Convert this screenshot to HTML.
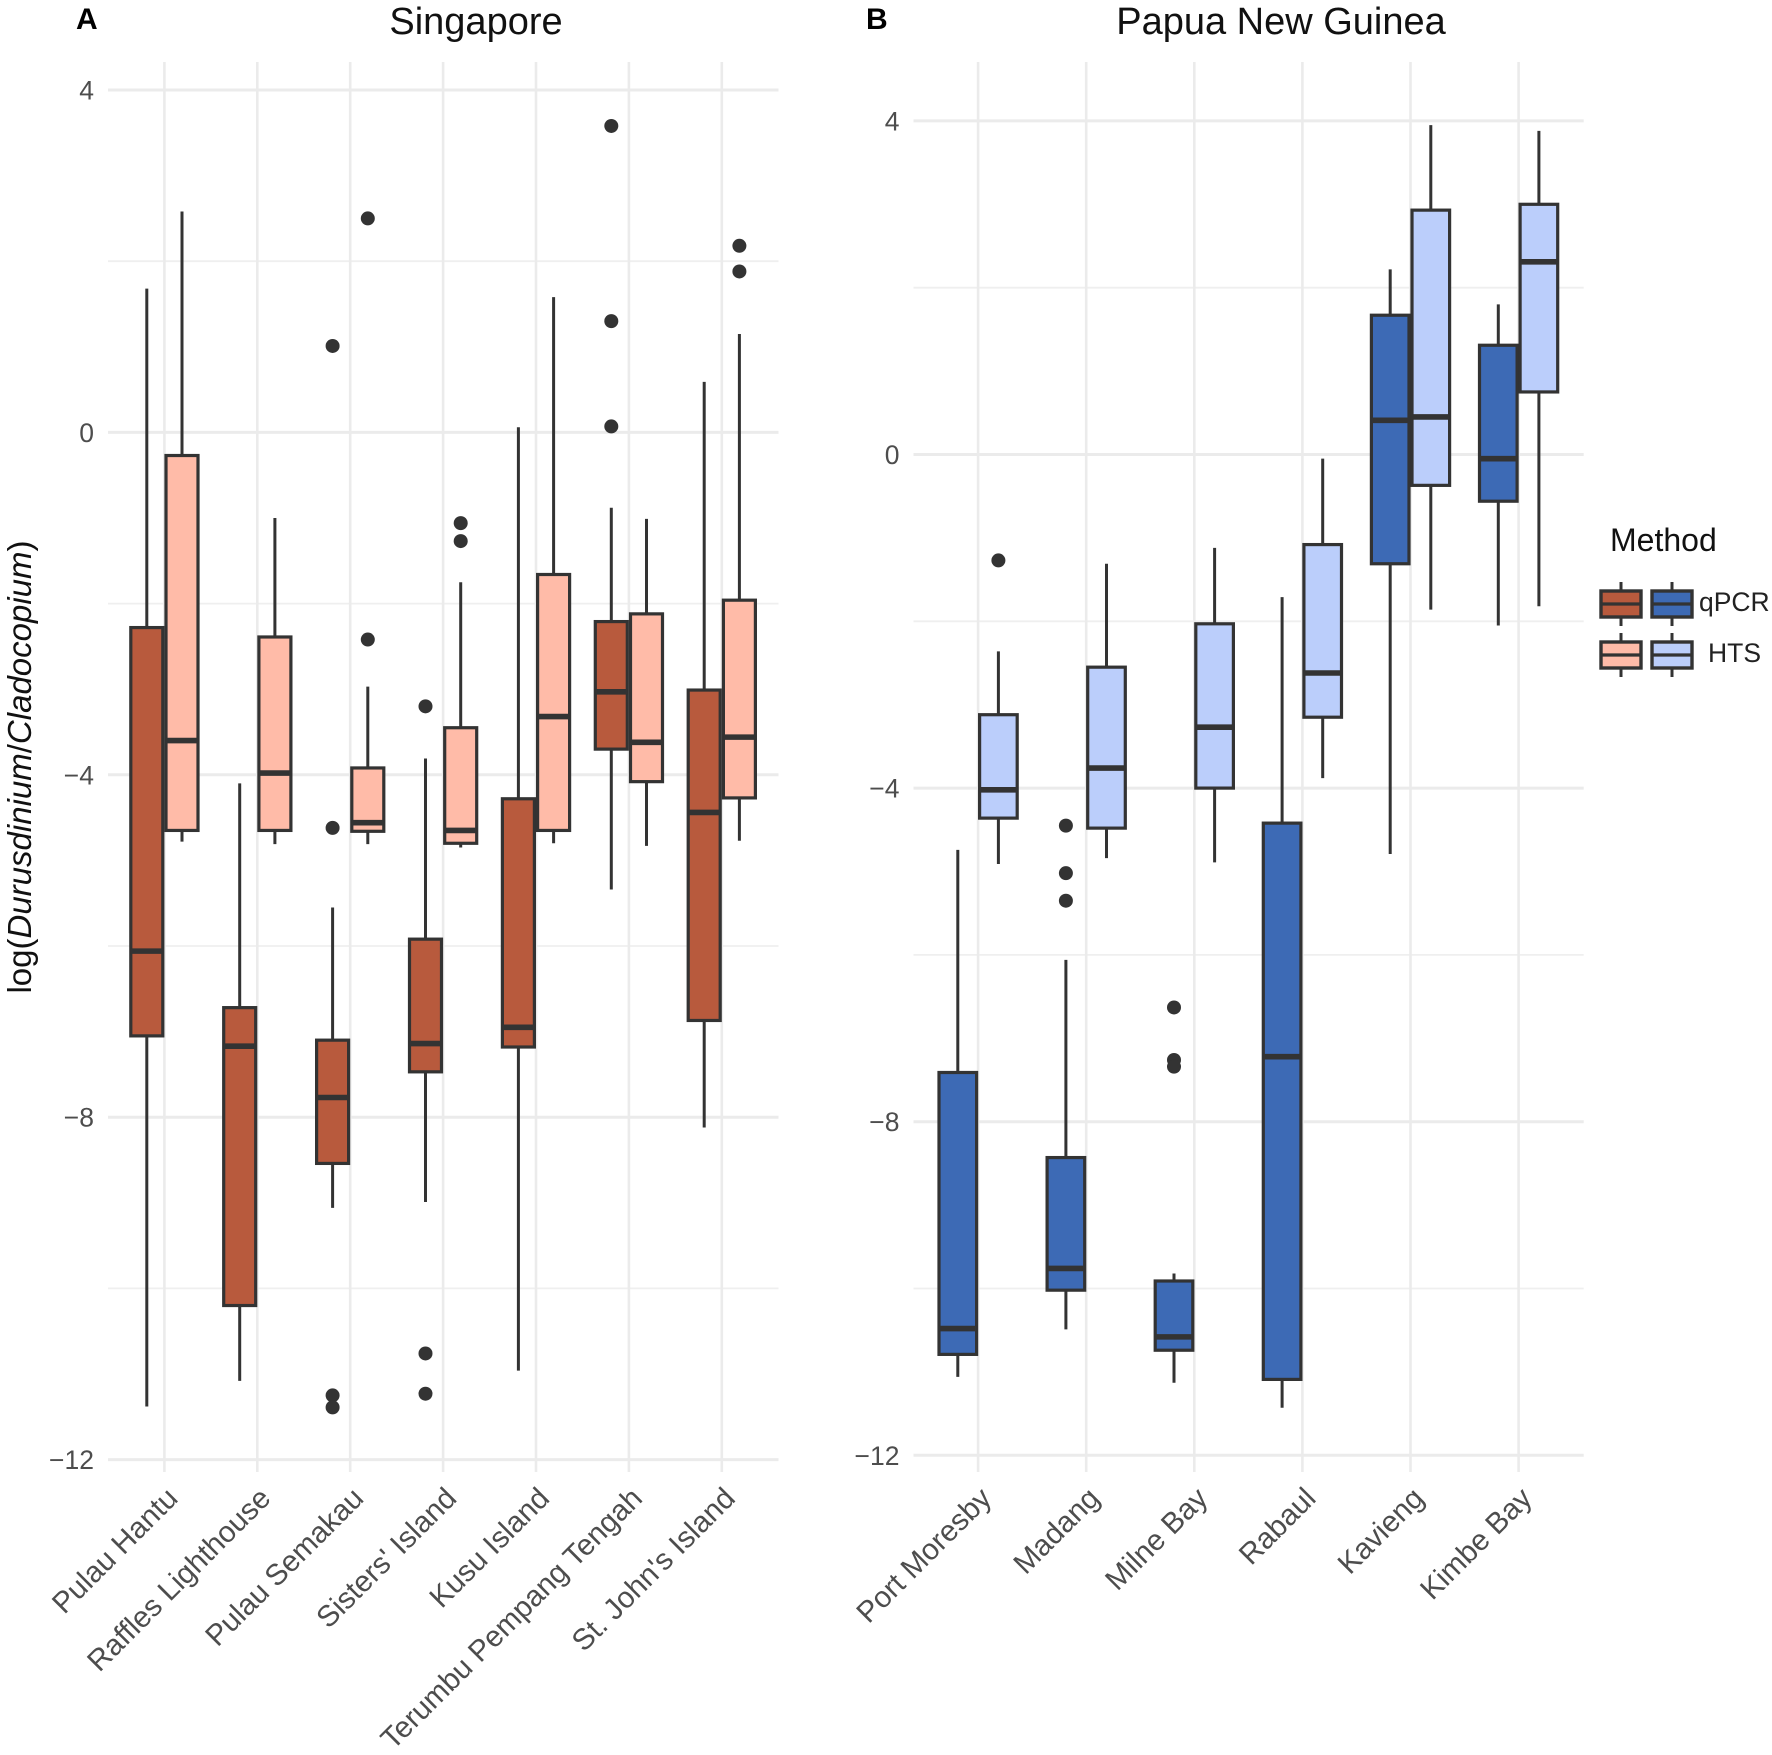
<!DOCTYPE html>
<html lang="en">
<head>
<meta charset="utf-8">
<title>log(Durusdinium/Cladocopium) by site and method</title>
<style>
html,body{margin:0;padding:0;background:#fff;}
svg{display:block;font-family:"Liberation Sans",Arial,sans-serif;}
</style>
</head>
<body>
<svg id="figure" width="1772" height="1755" viewBox="0 0 1772 1755" xmlns="http://www.w3.org/2000/svg">
  <rect x="0" y="0" width="1772" height="1755" fill="#ffffff"/>
  <text x="76" y="29" font-size="30" font-weight="bold" fill="#000">A</text>
  <text x="866" y="29" font-size="30" font-weight="bold" fill="#000">B</text>
  <text x="476" y="34" font-size="38" text-anchor="middle" fill="#111">Singapore</text>
  <text x="1281" y="34" font-size="38" text-anchor="middle" fill="#111">Papua New Guinea</text>
  <text transform="translate(31,767) rotate(-90)" font-size="33" text-anchor="middle" fill="#111">log(<tspan font-style="italic">Durusdinium</tspan>/<tspan font-style="italic">Cladocopium</tspan>)</text>
  <g id="panel-a"></g>
  <g id="panel-b"></g>
  <g>
    <text x="1610" y="551" font-size="32" fill="#111">Method</text>
    <g id="legend-keys"></g>
    <text x="1699" y="611" font-size="26.5" fill="#222">qPCR</text>
    <text x="1708" y="662" font-size="26.5" fill="#222">HTS</text>
  </g>
</svg>
<script>
// Singapore data. Each stat row: [lower whisker, Q1, median, Q3, upper whisker]
const sgSites = ["Pulau Hantu","Raffles Lighthouse","Pulau Semakau","Sisters' Island","Kusu Island","Terumbu Pempang Tengah","St. John's Island"];
const sgQpcrStats = [
  [-11.38,-7.05,-6.06,-2.28,1.68],
  [-11.08,-10.2,-7.17,-6.72,-4.10],
  [-9.06,-8.54,-7.77,-7.10,-5.55],
  [-8.99,-7.47,-7.14,-5.92,-3.81],
  [-10.96,-7.18,-6.95,-4.28,0.06],
  [-5.34,-3.70,-3.03,-2.21,-0.88],
  [-8.12,-6.87,-4.44,-3.01,0.59]
];
const sgHtsStats = [
  [-4.78,-4.65,-3.60,-0.27,2.58],
  [-4.81,-4.65,-3.98,-2.39,-1.00],
  [-4.81,-4.66,-4.56,-3.92,-2.97],
  [-4.85,-4.80,-4.65,-3.45,-1.75],
  [-4.80,-4.65,-3.32,-1.66,1.58],
  [-4.83,-4.08,-3.62,-2.12,-1.01],
  [-4.77,-4.27,-3.56,-1.96,1.15]
];
const sgQpcrOutliers = [[],[],[1.01,-4.62,-11.25,-11.39],[-3.2,-10.76,-11.23],[],[3.58,1.30,0.07],[]];
const sgHtsOutliers = [[],[],[2.50,-2.42],[-1.06,-1.27],[],[],[2.18,1.88]];

// Papua New Guinea data
const pngSites = ["Port Moresby","Madang","Milne Bay","Rabaul","Kavieng","Kimbe Bay"];
const pngQpcrStats = [
  [-11.06,-10.79,-10.48,-7.41,-4.74],
  [-10.49,-10.02,-9.76,-8.43,-6.06],
  [-11.13,-10.74,-10.58,-9.91,-9.82],
  [-11.43,-11.09,-7.22,-4.42,-1.71],
  [-4.79,-1.31,0.41,1.67,2.22],
  [-2.05,-0.56,-0.05,1.31,1.80]
];
const pngHtsStats = [
  [-4.91,-4.36,-4.02,-3.12,-2.36],
  [-4.84,-4.48,-3.76,-2.55,-1.31],
  [-4.89,-4.00,-3.27,-2.03,-1.12],
  [-3.88,-3.15,-2.62,-1.08,-0.05],
  [-1.86,-0.37,0.45,2.93,3.95],
  [-1.82,0.75,2.31,3.00,3.88]
];
const pngQpcrOutliers = [[],[-4.45,-5.02,-5.35],[-6.63,-7.26,-7.34],[],[],[]];
const pngHtsOutliers = [[-1.27],[],[],[],[],[]];

// Axis ticks
const majorTicks = [4,0,-4,-8,-12];
const majorTickLabels = ["4","0","\u22124","\u22128","\u221212"];
const minorTicks = [2,-2,-6,-10];

const SVGNS = "http://www.w3.org/2000/svg";
const INK = "#333333";

function shape(parent, tag, attrs) {
  const el = document.createElementNS(SVGNS, tag);
  for (const k in attrs) el.setAttribute(k, attrs[k]);
  parent.appendChild(el);
  return el;
}

function slug(s) {
  return s.toLowerCase().replace(/[^a-z0-9]+/g, "-");
}

function drawBox(g, xc, width, stats, outliers, fill, yScale, label) {
  const low = stats[0], q1 = stats[1], med = stats[2], q3 = stats[3], high = stats[4];
  const whisker = shape(g, "path", {
    d: "M" + xc + " " + yScale(high) + "V" + yScale(q3) + "M" + xc + " " + yScale(q1) + "V" + yScale(low),
    stroke: INK, "stroke-width": 3, fill: "none"
  });
  
  
  const box = shape(g, "rect", {
    x: xc - width / 2, y: yScale(q3), width: width, height: yScale(q1) - yScale(q3),
    fill: fill, stroke: INK, "stroke-width": 3.2
  });
  
  
  const median = shape(g, "line", {
    x1: xc - width / 2, x2: xc + width / 2, y1: yScale(med), y2: yScale(med),
    stroke: INK, "stroke-width": 5.6
  });
  
  
  outliers.forEach(function (v) {
    const dot = shape(g, "circle", { cx: xc, cy: yScale(v), r: 7, fill: INK });
    
    
  });
}

function drawPanel(cfg) {
  const root = document.getElementById(cfg.id);
  const yScale = function (v) { return cfg.y0 - cfg.yUnit * v; };
  const xScale = function (i) { return cfg.x0 + cfg.xStep * i; };

  minorTicks.forEach(function (v) {
    const line = shape(root, "line", { x1: cfg.left, x2: cfg.right, y1: yScale(v), y2: yScale(v), stroke: "#EFEFEF", "stroke-width": 1.8 });
    
    
  });
  majorTicks.forEach(function (v, i) {
    const line = shape(root, "line", { x1: cfg.left, x2: cfg.right, y1: yScale(v), y2: yScale(v), stroke: "#EBEBEB", "stroke-width": 3 });
    
    
    const label = shape(root, "text", { x: cfg.left - 14, y: yScale(v) + 9.5, "font-size": 26.5, "text-anchor": "end", fill: "#4D4D4D" });
    label.textContent = majorTickLabels[i];
    
    
  });
  cfg.sites.forEach(function (site, i) {
    const line = shape(root, "line", { x1: xScale(i), x2: xScale(i), y1: cfg.top, y2: cfg.bottom, stroke: "#EBEBEB", "stroke-width": 2.6 });
    
    
  });
  cfg.sites.forEach(function (site, i) {
    const g = shape(root, "g", {});
    
    
    drawBox(g, xScale(i) - cfg.offset, cfg.boxWidth, cfg.qpcr[i], cfg.qpcrOut[i], cfg.qpcrFill, yScale, 'qpcr-' + slug(site));
    drawBox(g, xScale(i) + cfg.offset, cfg.boxWidth, cfg.hts[i], cfg.htsOut[i], cfg.htsFill, yScale, 'hts-' + slug(site));
    const label = shape(root, "text", {
      transform: "translate(" + (xScale(i) + 15) + "," + (cfg.bottom + 28) + ") rotate(-45)",
      "font-size": 29.6, "text-anchor": "end", fill: "#4D4D4D"
    });
    label.textContent = site;
    
    
  });
}

drawPanel({
  id: "panel-a", sites: sgSites, qpcr: sgQpcrStats, hts: sgHtsStats,
  qpcrOut: sgQpcrOutliers, htsOut: sgHtsOutliers,
  qpcrFill: "#B85A3D", htsFill: "#FFBBA8",
  x0: 164.4, xStep: 92.9, offset: 17.6, boxWidth: 32,
  y0: 432.4, yUnit: 85.6, left: 108, right: 778.5, top: 62, bottom: 1472
});
drawPanel({
  id: "panel-b", sites: pngSites, qpcr: pngQpcrStats, hts: pngHtsStats,
  qpcrOut: pngQpcrOutliers, htsOut: pngHtsOutliers,
  qpcrFill: "#3D6AB5", htsFill: "#BBCEFB",
  x0: 978.1, xStep: 108.1, offset: 20.3, boxWidth: 37.6,
  y0: 454.5, yUnit: 83.4, left: 913.5, right: 1583.7, top: 62, bottom: 1472
});

// Legend keys
const legendColumnFills = [["#B85A3D","#FFBBA8"],["#3D6AB5","#BBCEFB"]];
(function () {
  const root = document.getElementById("legend-keys");
  const colLeft = [1601, 1652];
  const rowTop = [591, 642];
  legendColumnFills.forEach(function (fills, c) {
    fills.forEach(function (fill, r) {
      const g = shape(root, "g", {});
      
      
      const cx = colLeft[c] + 20;
      shape(g, "line", { x1: cx, x2: cx, y1: rowTop[r] - 9, y2: rowTop[r] + 35, stroke: INK, "stroke-width": 3 });
      shape(g, "rect", { x: colLeft[c], y: rowTop[r], width: 40, height: 26, fill: fill, stroke: INK, "stroke-width": 3.4 });
      shape(g, "line", { x1: colLeft[c], x2: colLeft[c] + 40, y1: rowTop[r] + 13, y2: rowTop[r] + 13, stroke: INK, "stroke-width": 3.2 });
    });
  });
})();
</script>
</body>
</html>
